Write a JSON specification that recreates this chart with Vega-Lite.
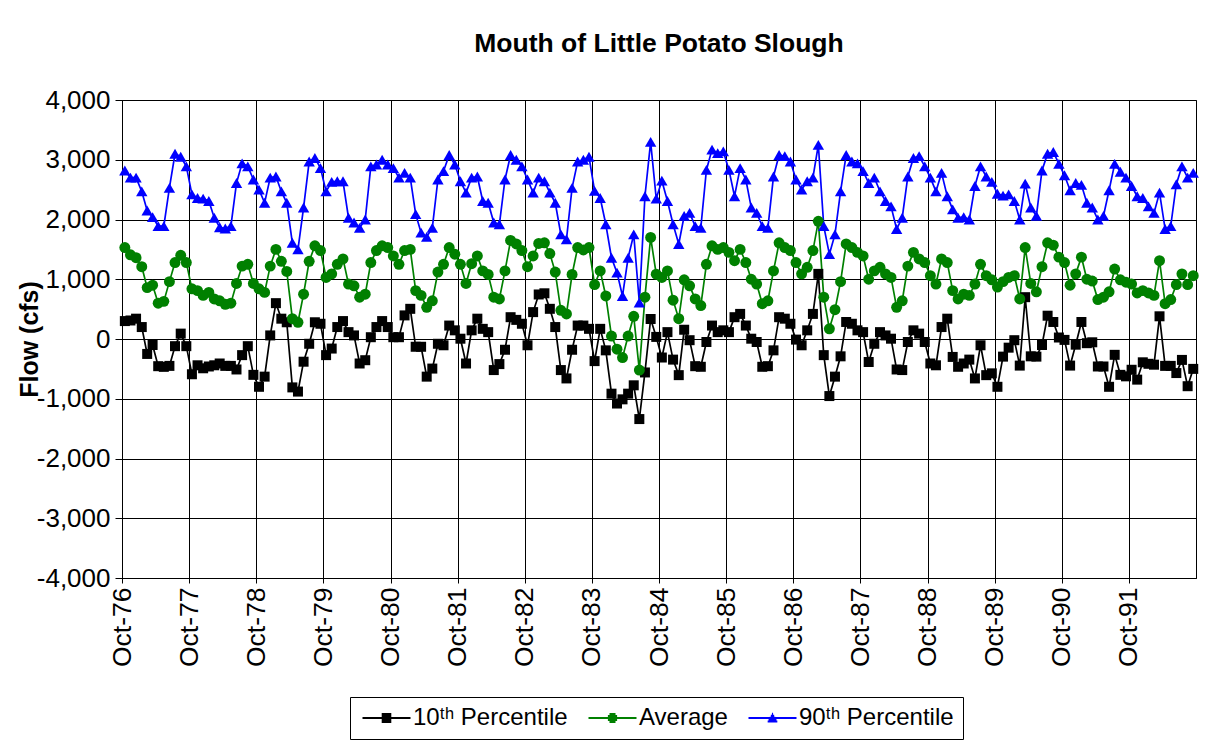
{
  "$schema": "https://vega.github.io/schema/vega-lite/v6.json",
  "width": 1074,
  "height": 478,
  "autosize": {"type": "none"},
  "padding": {"left": 122, "top": 100, "right": 10, "bottom": 162},
  "background": "white",
  "config": {"view": {"stroke": "black", "strokeWidth": 1}},
  "title": {"text": "Mouth of Little Potato Slough", "font": "Liberation Sans", "fontSize": 26.5, "fontWeight": "bold", "color": "black", "frame": "group", "anchor": "middle", "offset": 30},
  "data": {"values": [
    {"m":"1976-10","p10":300,"avg":1530,"p90":2820},{"m":"1976-11","p10":310,"avg":1410,"p90":2700},{"m":"1976-12","p10":340,"avg":1360,"p90":2700},{"m":"1977-01","p10":200,"avg":1210,"p90":2470},{"m":"1977-02","p10":-250,"avg":860,"p90":2150},{"m":"1977-03","p10":-100,"avg":900,"p90":2040},{"m":"1977-04","p10":-455,"avg":600,"p90":1890},{"m":"1977-05","p10":-466,"avg":630,"p90":1890},{"m":"1977-06","p10":-450,"avg":960,"p90":2530},{"m":"1977-07","p10":-120,"avg":1280,"p90":3100},{"m":"1977-08","p10":90,"avg":1400,"p90":3050},{"m":"1977-09","p10":-120,"avg":1280,"p90":2890},
    {"m":"1977-10","p10":-590,"avg":840,"p90":2420},{"m":"1977-11","p10":-440,"avg":810,"p90":2360},{"m":"1977-12","p10":-490,"avg":730,"p90":2350},{"m":"1978-01","p10":-460,"avg":780,"p90":2310},{"m":"1978-02","p10":-440,"avg":670,"p90":2030},{"m":"1978-03","p10":-410,"avg":640,"p90":1870},{"m":"1978-04","p10":-450,"avg":580,"p90":1850},{"m":"1978-05","p10":-450,"avg":600,"p90":1890},{"m":"1978-06","p10":-510,"avg":930,"p90":2610},{"m":"1978-07","p10":-270,"avg":1220,"p90":2940},{"m":"1978-08","p10":-120,"avg":1250,"p90":2890},{"m":"1978-09","p10":-600,"avg":930,"p90":2670},
    {"m":"1978-10","p10":-800,"avg":840,"p90":2500},{"m":"1978-11","p10":-630,"avg":780,"p90":2280},{"m":"1978-12","p10":60,"avg":1220,"p90":2700},{"m":"1979-01","p10":600,"avg":1500,"p90":2720},{"m":"1979-02","p10":340,"avg":1300,"p90":2470},{"m":"1979-03","p10":280,"avg":1130,"p90":2280},{"m":"1979-04","p10":-810,"avg":340,"p90":1610},{"m":"1979-05","p10":-880,"avg":280,"p90":1500},{"m":"1979-06","p10":-380,"avg":750,"p90":2200},{"m":"1979-07","p10":-80,"avg":1300,"p90":2970},{"m":"1979-08","p10":280,"avg":1560,"p90":3030},{"m":"1979-09","p10":255,"avg":1480,"p90":2860},
    {"m":"1979-10","p10":-270,"avg":1030,"p90":2470},{"m":"1979-11","p10":-160,"avg":1090,"p90":2630},{"m":"1979-12","p10":200,"avg":1250,"p90":2640},{"m":"1980-01","p10":300,"avg":1340,"p90":2640},{"m":"1980-02","p10":115,"avg":920,"p90":2030},{"m":"1980-03","p10":60,"avg":890,"p90":1950},{"m":"1980-04","p10":-410,"avg":700,"p90":1860},{"m":"1980-05","p10":-355,"avg":750,"p90":2000},{"m":"1980-06","p10":30,"avg":1280,"p90":2890},{"m":"1980-07","p10":200,"avg":1480,"p90":2920},{"m":"1980-08","p10":300,"avg":1560,"p90":3000},{"m":"1980-09","p10":200,"avg":1530,"p90":2920},
    {"m":"1980-10","p10":30,"avg":1390,"p90":2860},{"m":"1980-11","p10":30,"avg":1250,"p90":2700},{"m":"1980-12","p10":395,"avg":1480,"p90":2780},{"m":"1981-01","p10":505,"avg":1500,"p90":2700},{"m":"1981-02","p10":-130,"avg":810,"p90":2090},{"m":"1981-03","p10":-130,"avg":730,"p90":1780},{"m":"1981-04","p10":-630,"avg":530,"p90":1710},{"m":"1981-05","p10":-495,"avg":640,"p90":1860},{"m":"1981-06","p10":-80,"avg":1120,"p90":2670},{"m":"1981-07","p10":-105,"avg":1250,"p90":2810},{"m":"1981-08","p10":225,"avg":1530,"p90":3080},{"m":"1981-09","p10":145,"avg":1420,"p90":2920},
    {"m":"1981-10","p10":5,"avg":1250,"p90":2640},{"m":"1981-11","p10":-410,"avg":930,"p90":2450},{"m":"1981-12","p10":145,"avg":1260,"p90":2700},{"m":"1982-01","p10":340,"avg":1390,"p90":2720},{"m":"1982-02","p10":170,"avg":1140,"p90":2310},{"m":"1982-03","p10":115,"avg":1080,"p90":2280},{"m":"1982-04","p10":-520,"avg":700,"p90":1950},{"m":"1982-05","p10":-420,"avg":670,"p90":1920},{"m":"1982-06","p10":-180,"avg":1140,"p90":2670},{"m":"1982-07","p10":365,"avg":1650,"p90":3080},{"m":"1982-08","p10":320,"avg":1590,"p90":3000},{"m":"1982-09","p10":255,"avg":1480,"p90":2890},
    {"m":"1982-10","p10":-105,"avg":1210,"p90":2670},{"m":"1982-11","p10":450,"avg":1390,"p90":2450},{"m":"1982-12","p10":745,"avg":1600,"p90":2700},{"m":"1983-01","p10":765,"avg":1610,"p90":2640},{"m":"1983-02","p10":505,"avg":1430,"p90":2450},{"m":"1983-03","p10":200,"avg":1120,"p90":2280},{"m":"1983-04","p10":-520,"avg":480,"p90":1750},{"m":"1983-05","p10":-660,"avg":420,"p90":1670},{"m":"1983-06","p10":-180,"avg":1080,"p90":2530},{"m":"1983-07","p10":225,"avg":1530,"p90":2970},{"m":"1983-08","p10":225,"avg":1490,"p90":3000},{"m":"1983-09","p10":170,"avg":1530,"p90":3050},
    {"m":"1983-10","p10":-370,"avg":910,"p90":2480},{"m":"1983-11","p10":170,"avg":1140,"p90":2360},{"m":"1983-12","p10":-190,"avg":720,"p90":1920},{"m":"1984-01","p10":-915,"avg":50,"p90":1360},{"m":"1984-02","p10":-1080,"avg":-170,"p90":1110},{"m":"1984-03","p10":-1010,"avg":-310,"p90":720},{"m":"1984-04","p10":-915,"avg":50,"p90":1360},{"m":"1984-05","p10":-775,"avg":380,"p90":1750},{"m":"1984-06","p10":-1340,"avg":-520,"p90":610},{"m":"1984-07","p10":-560,"avg":700,"p90":2390},{"m":"1984-08","p10":335,"avg":1700,"p90":3300},{"m":"1984-09","p10":35,"avg":1085,"p90":2350},
    {"m":"1984-10","p10":-310,"avg":1030,"p90":2650},{"m":"1984-11","p10":115,"avg":1140,"p90":2310},{"m":"1984-12","p10":-345,"avg":650,"p90":1920},{"m":"1985-01","p10":-605,"avg":340,"p90":1590},{"m":"1985-02","p10":155,"avg":990,"p90":2060},{"m":"1985-03","p10":-20,"avg":890,"p90":2110},{"m":"1985-04","p10":-455,"avg":670,"p90":1890},{"m":"1985-05","p10":-465,"avg":560,"p90":1860},{"m":"1985-06","p10":-50,"avg":1250,"p90":2830},{"m":"1985-07","p10":225,"avg":1560,"p90":3170},{"m":"1985-08","p10":115,"avg":1500,"p90":3110},{"m":"1985-09","p10":145,"avg":1530,"p90":3140},
    {"m":"1985-10","p10":115,"avg":1450,"p90":2830},{"m":"1985-11","p10":365,"avg":1310,"p90":2390},{"m":"1985-12","p10":420,"avg":1500,"p90":2860},{"m":"1986-01","p10":225,"avg":1280,"p90":2670},{"m":"1986-02","p10":5,"avg":1000,"p90":2200},{"m":"1986-03","p10":-50,"avg":920,"p90":2110},{"m":"1986-04","p10":-465,"avg":590,"p90":1890},{"m":"1986-05","p10":-455,"avg":640,"p90":1860},{"m":"1986-06","p10":-190,"avg":1140,"p90":2720},{"m":"1986-07","p10":365,"avg":1610,"p90":3080},{"m":"1986-08","p10":340,"avg":1530,"p90":3060},{"m":"1986-09","p10":255,"avg":1480,"p90":2970},
    {"m":"1986-10","p10":-10,"avg":1280,"p90":2670},{"m":"1986-11","p10":-105,"avg":1090,"p90":2500},{"m":"1986-12","p10":145,"avg":1200,"p90":2640},{"m":"1987-01","p10":420,"avg":1480,"p90":2700},{"m":"1987-02","p10":1090,"avg":1970,"p90":3250},{"m":"1987-03","p10":-270,"avg":700,"p90":1890},{"m":"1987-04","p10":-955,"avg":170,"p90":1420},{"m":"1987-05","p10":-630,"avg":490,"p90":1750},{"m":"1987-06","p10":-290,"avg":960,"p90":2470},{"m":"1987-07","p10":285,"avg":1590,"p90":3080},{"m":"1987-08","p10":255,"avg":1530,"p90":2970},{"m":"1987-09","p10":145,"avg":1450,"p90":2940},
    {"m":"1987-10","p10":115,"avg":1390,"p90":2810},{"m":"1987-11","p10":-385,"avg":1000,"p90":2610},{"m":"1987-12","p10":-80,"avg":1140,"p90":2700},{"m":"1988-01","p10":115,"avg":1200,"p90":2470},{"m":"1988-02","p10":60,"avg":1090,"p90":2310},{"m":"1988-03","p10":5,"avg":1030,"p90":2220},{"m":"1988-04","p10":-510,"avg":530,"p90":1840},{"m":"1988-05","p10":-520,"avg":640,"p90":2030},{"m":"1988-06","p10":-50,"avg":1220,"p90":2720},{"m":"1988-07","p10":145,"avg":1450,"p90":3030},{"m":"1988-08","p10":90,"avg":1340,"p90":3060},{"m":"1988-09","p10":-50,"avg":1280,"p90":2890},
    {"m":"1988-10","p10":-410,"avg":1060,"p90":2700},{"m":"1988-11","p10":-440,"avg":920,"p90":2470},{"m":"1988-12","p10":200,"avg":1340,"p90":2780},{"m":"1989-01","p10":340,"avg":1280,"p90":2390},{"m":"1989-02","p10":-300,"avg":810,"p90":2170},{"m":"1989-03","p10":-465,"avg":670,"p90":2030},{"m":"1989-04","p10":-410,"avg":750,"p90":2040},{"m":"1989-05","p10":-345,"avg":730,"p90":2000},{"m":"1989-06","p10":-660,"avg":920,"p90":2560},{"m":"1989-07","p10":-105,"avg":1250,"p90":2890},{"m":"1989-08","p10":-605,"avg":1060,"p90":2720},{"m":"1989-09","p10":-575,"avg":990,"p90":2630},
    {"m":"1989-10","p10":-800,"avg":870,"p90":2430},{"m":"1989-11","p10":-295,"avg":960,"p90":2400},{"m":"1989-12","p10":-145,"avg":1030,"p90":2420},{"m":"1990-01","p10":-20,"avg":1060,"p90":2310},{"m":"1990-02","p10":-445,"avg":670,"p90":2000},{"m":"1990-03","p10":700,"avg":1530,"p90":2600},{"m":"1990-04","p10":-290,"avg":930,"p90":2200},{"m":"1990-05","p10":-295,"avg":790,"p90":2060},{"m":"1990-06","p10":-100,"avg":1210,"p90":2820},{"m":"1990-07","p10":390,"avg":1610,"p90":3100},{"m":"1990-08","p10":285,"avg":1570,"p90":3130},{"m":"1990-09","p10":25,"avg":1370,"p90":2930},
    {"m":"1990-10","p10":-15,"avg":1280,"p90":2740},{"m":"1990-11","p10":-445,"avg":900,"p90":2490},{"m":"1990-12","p10":-95,"avg":1090,"p90":2610},{"m":"1991-01","p10":285,"avg":1370,"p90":2580},{"m":"1991-02","p10":-70,"avg":1000,"p90":2280},{"m":"1991-03","p10":-55,"avg":970,"p90":2200},{"m":"1991-04","p10":-460,"avg":660,"p90":2000},{"m":"1991-05","p10":-460,"avg":700,"p90":2060},{"m":"1991-06","p10":-800,"avg":790,"p90":2490},{"m":"1991-07","p10":-265,"avg":1170,"p90":2930},{"m":"1991-08","p10":-600,"avg":990,"p90":2800},{"m":"1991-09","p10":-625,"avg":950,"p90":2700},
    {"m":"1991-10","p10":-515,"avg":920,"p90":2560},{"m":"1991-11","p10":-680,"avg":770,"p90":2390},{"m":"1991-12","p10":-390,"avg":810,"p90":2360},{"m":"1992-01","p10":-415,"avg":770,"p90":2220},{"m":"1992-02","p10":-430,"avg":730,"p90":2110},{"m":"1992-03","p10":380,"avg":1310,"p90":2450},{"m":"1992-04","p10":-450,"avg":590,"p90":1840},{"m":"1992-05","p10":-450,"avg":660,"p90":1890},{"m":"1992-06","p10":-570,"avg":910,"p90":2590},{"m":"1992-07","p10":-350,"avg":1090,"p90":2890},{"m":"1992-08","p10":-790,"avg":910,"p90":2700},{"m":"1992-09","p10":-500,"avg":1060,"p90":2780}
  ]},
  "transform": [{"fold": ["p10", "avg", "p90"], "as": ["series", "value"]}],
  "encoding": {
    "x": {
      "field": "m", "timeUnit": "utcyearmonth", "type": "temporal", "bandPosition": 0.5,
      "scale": {"domain": [{"year": 1976, "month": 10, "date": 1, "utc": true}, {"year": 1992, "month": 10, "date": 1, "utc": true}]},
      "axis": {
        "title": null,
        "values": [
          {"year": 1976, "month": 10, "date": 1, "utc": true}, {"year": 1977, "month": 10, "date": 1, "utc": true},
          {"year": 1978, "month": 10, "date": 1, "utc": true}, {"year": 1979, "month": 10, "date": 1, "utc": true},
          {"year": 1980, "month": 10, "date": 1, "utc": true}, {"year": 1981, "month": 10, "date": 1, "utc": true},
          {"year": 1982, "month": 10, "date": 1, "utc": true}, {"year": 1983, "month": 10, "date": 1, "utc": true},
          {"year": 1984, "month": 10, "date": 1, "utc": true}, {"year": 1985, "month": 10, "date": 1, "utc": true},
          {"year": 1986, "month": 10, "date": 1, "utc": true}, {"year": 1987, "month": 10, "date": 1, "utc": true},
          {"year": 1988, "month": 10, "date": 1, "utc": true}, {"year": 1989, "month": 10, "date": 1, "utc": true},
          {"year": 1990, "month": 10, "date": 1, "utc": true}, {"year": 1991, "month": 10, "date": 1, "utc": true}
        ],
        "labelExpr": "utcFormat(datum.value, '%b-%y')",
        "labelAngle": -90, "labelAlign": "right", "labelBaseline": "middle",
        "labelFont": "Liberation Sans", "labelFontSize": 26.5, "labelColor": "black",
        "labelPadding": 4, "labelOverlap": false, "labelFlush": false,
        "tickSize": 5, "tickColor": "black", "domainColor": "black",
        "grid": true, "gridColor": "black", "gridWidth": 1
      }
    },
    "y": {
      "field": "value", "type": "quantitative",
      "scale": {"domain": [-4000, 4000], "nice": false},
      "axis": {
        "title": "Flow (cfs)",
        "values": [-4000, -3000, -2000, -1000, 0, 1000, 2000, 3000, 4000],
        "labelExpr": "(datum.value < 0 ? '-' : '') + format(abs(datum.value), ',')",
        "labelFont": "Liberation Sans", "labelFontSize": 26, "labelColor": "black",
        "labelPadding": 5, "tickSize": 7, "tickColor": "black", "domainColor": "black",
        "grid": true, "gridColor": "black", "gridWidth": 1,
        "titleFont": "Liberation Sans", "titleFontSize": 25, "titleFontWeight": "bold", "titleColor": "black",
        "titleX": -93, "titleY": 239, "titleAngle": -90, "titleAlign": "center", "titleBaseline": "middle"
      }
    },
    "color": {
      "field": "series", "type": "nominal",
      "scale": {"domain": ["p10", "avg", "p90"], "range": ["#000000", "#008000", "#0000ff"]},
      "legend": {
        "title": null, "orient": "none", "legendX": 228, "legendY": 597, "direction": "horizontal",
        "strokeColor": "black", "fillColor": "white", "padding": 9,
        "labelFont": "Liberation Sans", "labelFontSize": 24, "labelColor": "black", "labelLimit": 400,
        "labelExpr": "datum.value == 'p10' ? '10ᵗʰ Percentile' : datum.value == 'avg' ? 'Average' : '90ᵗʰ Percentile'",
        "symbolSize": 64, "symbolStrokeWidth": 2, "symbolOffset": 15.5, "labelOffset": 14.5, "columnPadding": 16,
        "symbolOpacity": 1
      }
    }
  },
  "layer": [
    {
      "mark": {"type": "point", "filled": false, "opacity": 0},
      "encoding": {
        "shape": {"field": "series", "type": "nominal",
          "scale": {"domain": ["p10", "avg", "p90"], "range": [
            "M-6,0H6M-1.2,-1H1.2M-1.2,-0.5H1.2M-1.2,0H1.2M-1.2,0.5H1.2M-1.2,1H1.2",
            "M-6,0H6M-0.75,-1H0.75M-1.15,-0.5H1.15M-1.25,0H1.25M-1.15,0.5H1.15M-0.75,1H0.75",
            "M-6,0H6M-0.14,-1.05H0.14M-0.42,-0.55H0.42M-0.7,-0.05H0.7M-0.98,0.45H0.98M-1.21,0.85H1.21"
          ]}}
      }
    },
    {"mark": {"type": "line", "strokeWidth": 1.7}},
    {"transform": [{"filter": "datum.series == 'p10'"}], "mark": {"type": "point", "shape": "square", "filled": true, "opacity": 1, "size": 100}},
    {"transform": [{"filter": "datum.series == 'avg'"}], "mark": {"type": "point", "shape": "circle", "filled": true, "opacity": 1, "size": 120}},
    {"transform": [{"filter": "datum.series == 'p90'"}], "mark": {"type": "point", "shape": "triangle-up", "filled": true, "opacity": 1, "size": 130}}
  ]
}
